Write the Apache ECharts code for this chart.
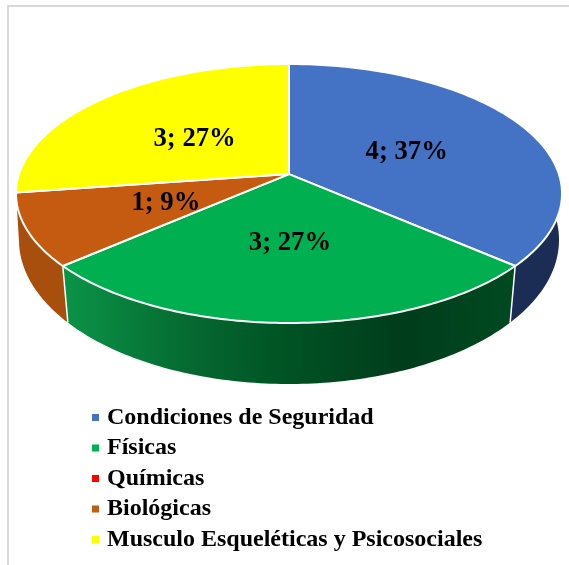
<!DOCTYPE html>
<html>
<head>
<meta charset="utf-8">
<style>
  html, body { margin: 0; padding: 0; background: #fff; }
  #main { width: 569px; height: 565px; }
</style>
<script src="https://cdn.jsdelivr.net/npm/echarts@6/dist/echarts.min.js"></script>
</head>
<body>
<div id="main"></div>
<script>
var categories = ['Condiciones de Seguridad', 'Físicas', 'Químicas', 'Biológicas', 'Musculo Esqueléticas y Psicosociales']
var values = [4, 3, 0, 1, 3]
var percentLabels = ['37%', '27%', '0%', '9%', '27%']
var topColors = ['#4472c4', '#00b050', '#ff0000', '#c55a11', '#ffff00']
var wallColors = ['#1b2d54', null, '#8f0000', '#a84f0e', null]

// gradiente del lateral verde
var greenStops = [
  { offset: 0, color: '#0b9448' },
  { offset: 0.3, color: '#05672f' },
  { offset: 0.5, color: '#005224' },
  { offset: 0.75, color: '#003d1b' },
  { offset: 1, color: '#004a20' }
]

// elipse superior e inferior, con el centro desplazado por la perspectiva
var topDisc = { cx: 289, cy: 193.5, rx: 273, ry: 129.5, e: 0.15 }
var bottomDisc = { cx: 289, cy: 240, rx: 270, ry: 144, e: 0.13 }
var FONT = '"Liberation Serif", "Times New Roman", serif'

var total = values.reduce(function (a, b) { return a + b }, 0)
var starts = []
values.reduce(function (acc, v, i) {
  starts[i] = acc
  return acc + v / total * 360
}, 0)

function project(disc, deg, r) {
  var a = deg * Math.PI / 180
  var u = r * Math.sin(a)
  var v = r * Math.cos(a)
  var d = 1 + disc.e * v
  return [
    disc.cx + disc.rx * u * Math.sqrt(1 - disc.e * disc.e) / d,
    disc.cy - disc.ry * (v + disc.e) / d
  ]
}

function arc(disc, from, to) {
  var pts = []
  var n = Math.max(2, Math.ceil(Math.abs(to - from)))
  for (var i = 0; i <= n; i++) {
    pts.push(project(disc, from + (to - from) * i / n, 1))
  }
  return pts
}

function renderSlice(params, api) {
  var i = api.value(0)
  var v = api.value(1)
  if (!v) {
    return { type: 'group', children: [] }
  }
  var from = starts[i]
  var to = from + v / total * 360
  var children = []

  // lateral, solo la parte que mira al frente
  var wFrom = Math.max(from, 90)
  var wTo = Math.min(to, 270)
  if (wTo > wFrom && (wallColors[i] || i === 1)) {
    var wall = arc(topDisc, wFrom, wTo).concat(arc(bottomDisc, wFrom, wTo).reverse())
    children.push({
      type: 'polygon',
      z2: 1,
      shape: { points: wall },
      style: {
        fill: wallColors[i] || { type: 'linear', x: 0, y: 0, x2: 1, y2: 0, colorStops: greenStops }
      }
    })
    ;[wFrom, wTo].forEach(function (deg) {
      if (deg === from && i === 1 || deg === to && i === 1) {
        children.push({
          type: 'line',
          z2: 2,
          shape: {
            x1: project(topDisc, deg, 1)[0],
            y1: project(topDisc, deg, 1)[1],
            x2: project(bottomDisc, deg, 1)[0],
            y2: project(bottomDisc, deg, 1)[1]
          },
          style: { stroke: '#fff', lineWidth: 1.5 }
        })
      }
    })
  }

  // cara superior
  var face = [project(topDisc, 0, 0)].concat(arc(topDisc, from, to))
  children.push({
    type: 'polygon',
    z2: 3,
    shape: { points: face },
    style: { fill: topColors[i], stroke: '#fff', lineWidth: 2, lineJoin: 'round' }
  })

  var mid = project(topDisc, (from + to) / 2, 0.49)
  children.push({
    type: 'text',
    z2: 4,
    style: {
      x: mid[0] + 1,
      y: mid[1] + (mid[1] < topDisc.cy - 20 ? 3.5 : 2),
      text: v + '; ' + percentLabels[i],
      align: 'center',
      verticalAlign: 'middle',
      fill: '#000',
      font: 'bold 26.7px ' + FONT
    }
  })
  return { type: 'group', children: children }
}

var chart = echarts.init(document.getElementById('main'), null, { renderer: 'canvas' })
chart.setOption({
  backgroundColor: '#fff',
  animation: false,
  graphic: [{
    type: 'rect',
    silent: true,
    shape: { x: 8, y: 6, width: 600, height: 600 },
    style: { fill: 'none', stroke: '#d9d9d9', lineWidth: 2 }
  }],
  legend: {
    orient: 'vertical',
    left: 87,
    top: 400.5,
    itemWidth: 7,
    itemHeight: 7,
    itemGap: 6.5,
    icon: 'rect',
    selectedMode: false,
    data: categories,
    textStyle: { fontFamily: FONT, fontWeight: 'bold', fontSize: 24, lineHeight: 24, color: '#000', padding: [0, 0, 0, 3] }
  },
  series: categories.map(function (name, i) {
    return {
      type: 'custom',
      name: name,
      coordinateSystem: 'none',
      itemStyle: { color: topColors[i] },
      renderItem: renderSlice,
      data: [[i, values[i]]]
    }
  })
})
</script>
</body>
</html>
